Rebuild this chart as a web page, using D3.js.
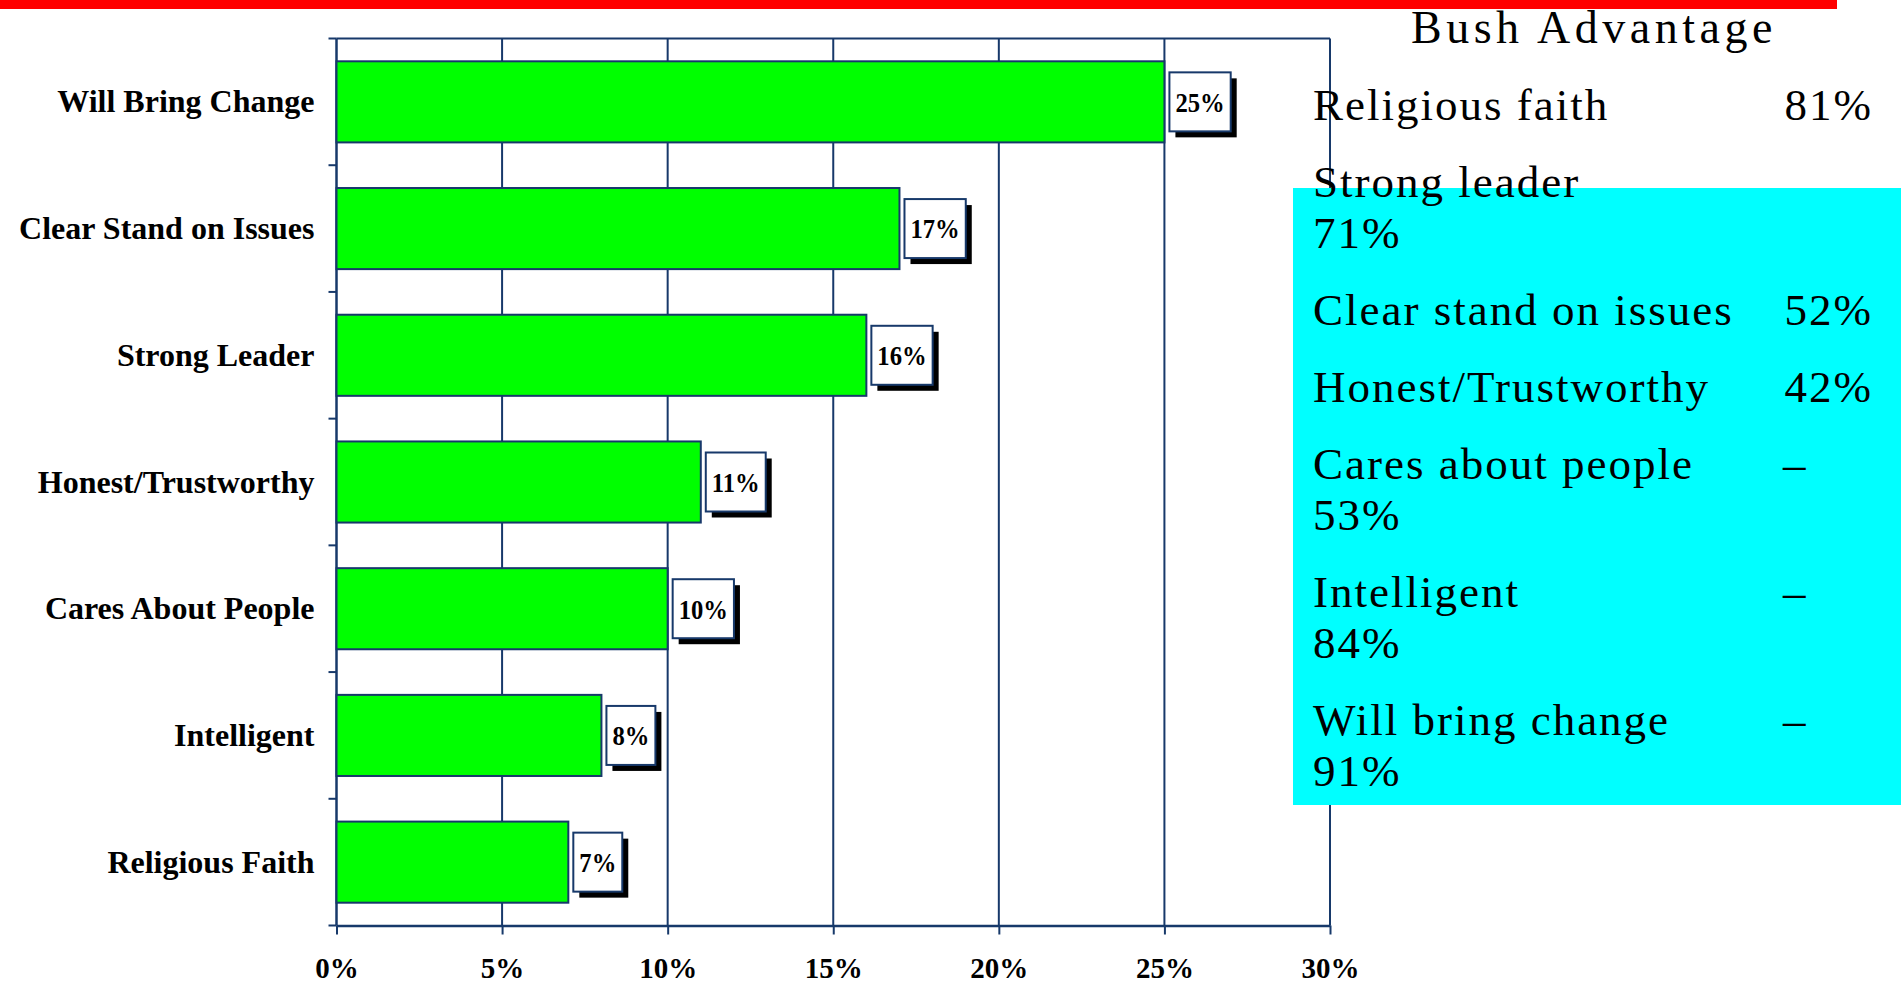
<!DOCTYPE html>
<html>
<head>
<meta charset="utf-8">
<script src="https://cdn.jsdelivr.net/npm/d3@7"></script>
<style>
  body { margin: 0; background: #fff; }
  svg { display: block; }
  .cat { font-family: "Liberation Serif", "Times New Roman", serif; font-weight: bold; font-size: 32px; }
  .tick text { font-family: "Liberation Serif", "Times New Roman", serif; font-weight: bold; font-size: 29px; fill: #000; }
  .val { font-family: "Liberation Serif", "Times New Roman", serif; font-weight: bold; font-size: 28px; }
  .adv { font-family: "Liberation Serif", "Times New Roman", serif; font-size: 45px; letter-spacing: 2px; }
</style>
</head>
<body>
<svg id="chart" width="1901" height="982"></svg>
<script>

// bar chart data
var categories = ["Will Bring Change", "Clear Stand on Issues", "Strong Leader", "Honest/Trustworthy",
                  "Cares About People", "Intelligent", "Religious Faith"];
var shares = [0.25, 0.17, 0.16, 0.11, 0.10, 0.08, 0.07];
var xTicks = [0, 0.05, 0.10, 0.15, 0.20, 0.25, 0.30];

// side panel text
var panelTitle = "Bush Advantage";
var advLabels = ["Religious faith", "Strong leader", "Clear stand on issues", "Honest/Trustworthy",
                 "Cares about people", "Intelligent", "Will bring change"];
var advValues = [81, 71, 52, 42, -53, -84, -91];
var advWrapped = [false, true, false, false, true, true, true];

var navy = "#17396a";

var svg = d3.select("#chart");

var margin = {top: 38.5, right: 571, bottom: 56.5, left: 336.5};
var width = 1901 - margin.left - margin.right,
    height = 982 - margin.top - margin.bottom;

var g = svg.append("g")
  .attr("transform", "translate(" + margin.left + "," + margin.top + ")");

// scales
var x = d3.scaleLinear().domain([0, 0.30]).range([0, width]);
var y = d3.scaleBand().domain(categories).range([0, height])
  .paddingInner(0.36).paddingOuter(0.18);

// grid lines + frame
g.selectAll("line.grid")
  .data(xTicks.slice(1))
  .enter().append("line")
    .attr("class", "grid")
    .attr("x1", d => x(d)).attr("x2", d => x(d))
    .attr("y1", 0).attr("y2", height)
    .attr("stroke", navy).attr("stroke-width", 2);

g.append("line")
  .attr("x1", 0).attr("x2", width)
  .attr("y1", 0).attr("y2", 0)
  .attr("stroke", navy).attr("stroke-width", 2);

// x axis
var xaxis = g.append("g")
  .attr("class", "axis axis--x")
  .attr("transform", "translate(0," + height + ")")
  .call(d3.axisBottom(x).tickValues(xTicks).tickFormat(d3.format(".0%")).tickSize(9).tickSizeOuter(0));

xaxis.select(".domain").attr("stroke", navy).attr("stroke-width", 2.5);
xaxis.selectAll(".tick line").attr("stroke", navy).attr("stroke-width", 2);
xaxis.selectAll(".tick text").attr("y", 52).attr("dy", 0);

// y axis: line with ticks on band boundaries
var step = y.step(),
    first = y(categories[0]) - y.paddingInner() * step / 2;
var bounds = d3.range(categories.length + 1).map(i => first + i * step);

g.append("line")
  .attr("x1", 0).attr("x2", 0)
  .attr("y1", 0).attr("y2", height)
  .attr("stroke", navy).attr("stroke-width", 2.5);

g.selectAll("line.ytick")
  .data(bounds)
  .enter().append("line")
    .attr("class", "ytick")
    .attr("x1", -8).attr("x2", 0)
    .attr("y1", d => d).attr("y2", d => d)
    .attr("stroke", navy).attr("stroke-width", 2);

// category labels
g.selectAll("text.cat")
  .data(categories)
  .enter().append("text")
    .attr("class", "cat")
    .attr("x", -22)
    .attr("y", d => y(d) + y.bandwidth() / 2)
    .attr("dy", "0.33em")
    .attr("text-anchor", "end")
    .text(d => d);

// bars
g.selectAll("rect.bar")
  .data(shares)
  .enter().append("rect")
    .attr("class", "bar")
    .attr("x", 0)
    .attr("y", (d, i) => y(categories[i]))
    .attr("width", d => x(d))
    .attr("height", y.bandwidth())
    .attr("fill", "#00ff00")
    .attr("stroke", navy)
    .attr("stroke-width", 2);

// value labels: boxed with a drop shadow (text slightly condensed like the original)
var boxH = 59, squeeze = 0.88;
var lab = g.selectAll("g.val")
  .data(shares)
  .enter().append("g")
    .attr("class", "val")
    .attr("transform", (d, i) => "translate(" + (x(d) + 5) + "," + (y(categories[i]) + y.bandwidth() / 2 - boxH / 2) + ")");

lab.each(function(d) {
  var sel = d3.select(this);
  var shadow = sel.append("rect").attr("fill", "#000");
  var box = sel.append("rect").attr("fill", "#fff").attr("stroke", navy).attr("stroke-width", 2);
  var t = sel.append("text")
    .attr("dy", "0.35em")
    .text(d3.format(".0%")(d));
  var w = t.node().getComputedTextLength() * squeeze + 12;
  t.attr("transform", "translate(6," + (boxH / 2) + ")scale(" + squeeze + ",1)");
  box.attr("width", w).attr("height", boxH);
  shadow.attr("x", 6).attr("y", 6).attr("width", w).attr("height", boxH);
});

// red strip across the top
svg.append("rect")
  .attr("x", 0).attr("y", 0)
  .attr("width", 1837).attr("height", 9)
  .attr("fill", "#ff0000");

// side panel
svg.append("rect")
  .attr("x", 1293).attr("y", 188)
  .attr("width", 1901 - 1293).attr("height", 805 - 188)
  .attr("fill", "#00ffff");

svg.append("text")
  .attr("class", "adv")
  .attr("x", 1411).attr("y", 43)
  .style("font-size", "46px")
  .style("letter-spacing", "4.5px")
  .text(panelTitle);

var panel = svg.append("g").attr("transform", "translate(1313,0)");
var base = 120;
advLabels.forEach(function(label, i) {
  var v = advValues[i];
  panel.append("text")
    .attr("class", "adv")
    .attr("y", base)
    .text(label);
  if (advWrapped[i]) {
    if (v < 0) {
      panel.append("text")
        .attr("class", "adv")
        .attr("x", 470).attr("y", base)
        .text("\u2013");
    }
    base += 51;
    panel.append("text")
      .attr("class", "adv")
      .attr("y", base)
      .text(Math.abs(v) + "%");
  } else {
    panel.append("text")
      .attr("class", "adv")
      .attr("x", 560).attr("y", base)
      .attr("text-anchor", "end")
      .text(v + "%");
  }
  base += 77;
});

</script>
</body>
</html>
